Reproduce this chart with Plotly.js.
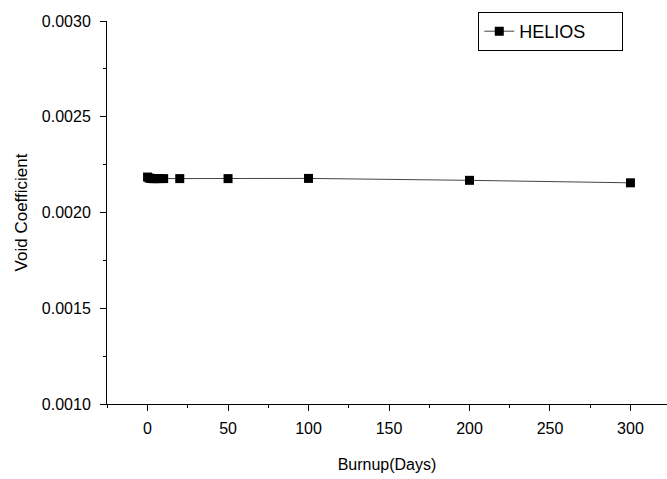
<!DOCTYPE html>
<html>
<head>
<meta charset="utf-8">
<script src="https://cdn.plot.ly/plotly-3.0.1.min.js"></script>
<style>html,body{margin:0;padding:0;background:#fff;}#chart{width:667px;height:479px;}</style>
</head>
<body>
<div id="chart"></div>
<script>
const burnupDays = [0, 1, 2, 3, 4, 5, 7, 10, 20, 50, 100, 200, 300];
const voidCoefficient = [0.002185, 0.00218, 0.002178, 0.002177, 0.002177, 0.002177, 0.002177, 0.002177, 0.002177, 0.002177, 0.002178, 0.002168, 0.002155];
const seriesName = 'HELIOS';

const trace = {
  x: burnupDays,
  y: voidCoefficient,
  name: seriesName,
  type: 'scatter',
  mode: 'lines+markers',
  line: {color: '#444', width: 1},
  marker: {symbol: 'square', size: 9, color: '#000'}
};

const fontFam = 'Liberation Sans, Arial, sans-serif';
const layout = {
  width: 667, height: 479,
  margin: {l: 107, r: 0, t: 21, b: 75},
  paper_bgcolor: '#fff', plot_bgcolor: '#fff',
  font: {family: fontFam, color: '#000', size: 16},
  showlegend: true,
  legend: {
    x: 0.663, y: 1.0235, xanchor: 'left', yanchor: 'top',
    orientation: 'h', entrywidth: 98,
    bordercolor: '#000', borderwidth: 1, bgcolor: '#fff',
    font: {family: fontFam, size: 18, color: '#000'},
    itemwidth: 30
  },
  xaxis: {
    range: [-25.2, 322.7],
    tickmode: 'linear', tick0: 0, dtick: 50,
    ticks: 'outside', ticklen: 6, tickwidth: 1, tickcolor: '#000',
    minor: {ticks: 'outside', ticklen: 3, dtick: 25, tick0: 0, tickcolor: '#000'},
    showline: true, linecolor: '#000', linewidth: 1,
    showgrid: false, zeroline: false,
    ticklabelstandoff: 4,
    tickfont: {family: fontFam, size: 16, color: '#000'},
    title: {text: 'Burnup(Days)', font: {family: fontFam, size: 16, color: '#000'}, standoff: 22}
  },
  yaxis: {
    range: [0.001, 0.003],
    tickmode: 'linear', tick0: 0.001, dtick: 0.0005,
    tickformat: '.4f',
    ticks: 'outside', ticklen: 6, tickwidth: 1, tickcolor: '#000',
    minor: {ticks: 'outside', ticklen: 3, dtick: 0.00025, tick0: 0.001, tickcolor: '#000'},
    showline: true, linecolor: '#000', linewidth: 1,
    showgrid: false, zeroline: false,
    ticklabelstandoff: 6,
    tickfont: {family: fontFam, size: 16, color: '#000'},
    title: {text: 'Void Coefficient', font: {family: fontFam, size: 17, color: '#000'}, standoff: 9}
  }
};

Plotly.newPlot('chart', [trace], layout, {displayModeBar: false, staticPlot: true});
</script>
</body>
</html>
